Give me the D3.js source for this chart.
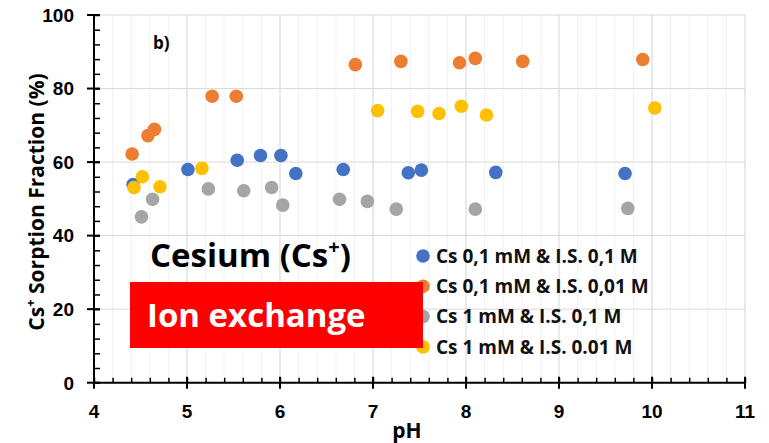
<!DOCTYPE html>
<html>
<head>
<meta charset="utf-8">
<script src="https://cdn.jsdelivr.net/npm/d3@7"></script>
<style>
  body { margin: 0; background: #fff; }
  svg { display: block; font-family: 'Open Sans', Lato, sans-serif; }
</style>
</head>
<body>
<svg id="chart" width="769" height="443"></svg>
<script>
// series labels + colours
const seriesNames = [
  'Cs 0,1 mM & I.S. 0,1 M',
  'Cs 0,1 mM & I.S. 0,01 M',
  'Cs 1 mM & I.S. 0,1 M',
  'Cs 1 mM & I.S. 0.01 M'
];
const seriesColors = ['#4472C4', '#ED7D31', '#A5A5A5', '#FFC000'];

// values (pH, sorption %)
const phBlue = [4.42, 5.01, 5.54, 5.79, 6.01, 6.17, 6.68, 7.38, 7.52, 8.32, 9.71];
const sorbBlue = [53.9, 58.0, 60.5, 61.8, 61.8, 56.9, 58.0, 57.1, 57.8, 57.2, 56.9];

const phOrange = [4.41, 4.58, 4.65, 5.27, 5.53, 6.81, 7.30, 7.93, 8.10, 8.61, 9.90];
const sorbOrange = [62.2, 67.2, 68.9, 77.9, 77.9, 86.5, 87.4, 87.0, 88.2, 87.4, 87.9];

const phGray = [4.51, 4.63, 5.23, 5.61, 5.91, 6.03, 6.64, 6.94, 7.25, 8.10, 9.74];
const sorbGray = [45.1, 49.9, 52.7, 52.2, 53.1, 48.3, 49.9, 49.3, 47.2, 47.2, 47.4];

const phYellow = [4.43, 4.52, 4.71, 5.16, 7.05, 7.48, 7.71, 7.95, 8.22, 10.03];
const sorbYellow = [53.1, 56.0, 53.3, 58.3, 74.0, 73.8, 73.2, 75.2, 72.8, 74.7];

const xTicks = [4, 5, 6, 7, 8, 9, 10, 11];
const yTicks = [0, 20, 40, 60, 80, 100];

const seriesPh = [phBlue, phOrange, phGray, phYellow];
const seriesSorb = [sorbBlue, sorbOrange, sorbGray, sorbYellow];

const svg = d3.select('#chart');
const x = d3.scaleLinear().domain([4, 11]).range([94, 745]);
const y = d3.scaleLinear().domain([0, 100]).range([382.7, 15]);

// minor vertical grid every 0.2
svg.append('g')
  .selectAll('line')
  .data(d3.range(4, 11.001, 0.2))
  .join('line')
  .attr('x1', d => x(d)).attr('x2', d => x(d))
  .attr('y1', y(100)).attr('y2', y(0))
  .attr('stroke', '#f2f2f2');

// major grid
svg.append('g')
  .selectAll('line')
  .data(xTicks.slice(1))
  .join('line')
  .attr('x1', d => x(d)).attr('x2', d => x(d))
  .attr('y1', y(100)).attr('y2', y(0))
  .attr('stroke', '#d9d9d9');

svg.append('g')
  .selectAll('line')
  .data(yTicks.slice(1))
  .join('line')
  .attr('x1', x(4)).attr('x2', x(11))
  .attr('y1', d => y(d)).attr('y2', d => y(d))
  .attr('stroke', '#d9d9d9');

// y axis: minor ticks inside, major ticks crossing
const yAxis = svg.append('g').attr('transform', `translate(${x(4)},0)`);
yAxis.call(d3.axisRight(y).tickValues(d3.range(0, 101, 4)).tickSize(6).tickFormat(''));
yAxis.call(g => g.select('.domain').remove());
yAxis.selectAll('.tick line').attr('stroke', '#000').attr('stroke-width', 1.5);
yAxis.append('line').attr('y1', y(0)).attr('y2', y(100)).attr('stroke', '#000').attr('stroke-width', 2);
yAxis.selectAll('.maj')
  .data(yTicks)
  .join('line')
  .attr('x1', -7).attr('x2', 6)
  .attr('y1', d => y(d)).attr('y2', d => y(d))
  .attr('stroke', '#000').attr('stroke-width', 2);
yAxis.selectAll('.lbl')
  .data(yTicks)
  .join('text')
  .attr('x', -20).attr('y', d => y(d)).attr('dy', '0.36em')
  .attr('text-anchor', 'end')
  .attr('fill', '#000')
  .attr('font-size', 19).attr('font-weight', 'bold')
  .text(d => d);

// x axis
const xAxis = svg.append('g').attr('transform', `translate(0,${y(0)})`);
xAxis.call(d3.axisTop(x).tickValues(d3.range(4, 11.001, 0.2)).tickSize(5).tickFormat(''));
xAxis.call(g => g.select('.domain').remove());
xAxis.selectAll('.tick line').attr('stroke', '#000').attr('stroke-width', 1.5);
xAxis.append('line').attr('x1', x(4)).attr('x2', x(11)).attr('stroke', '#000').attr('stroke-width', 2);
xAxis.selectAll('.maj')
  .data(xTicks)
  .join('line')
  .attr('x1', d => x(d)).attr('x2', d => x(d))
  .attr('y1', -6).attr('y2', 6)
  .attr('stroke', '#000').attr('stroke-width', 2);
xAxis.selectAll('.lbl')
  .data(xTicks)
  .join('text')
  .attr('x', d => x(d)).attr('y', 35)
  .attr('text-anchor', 'middle')
  .attr('fill', '#000')
  .attr('font-size', 19).attr('font-weight', 'bold')
  .text(d => d);

// axis titles
svg.append('text')
  .attr('x', 407).attr('y', 438)
  .attr('text-anchor', 'middle')
  .attr('font-size', 21).attr('font-weight', 'bold')
  .text('pH');

const yTitle = svg.append('text')
  .attr('transform', 'translate(44,202) rotate(-90)')
  .attr('text-anchor', 'middle')
  .attr('font-size', 21).attr('font-weight', 'bold');
yTitle.append('tspan').text('Cs');
yTitle.append('tspan').attr('baseline-shift', 'super').attr('font-size', 13).text('+');
yTitle.append('tspan').text(' Sorption Fraction (%)');

svg.append('text')
  .attr('x', 153).attr('y', 49)
  .attr('font-size', 17).attr('font-weight', 'bold')
  .text('b)');

// points
seriesPh.forEach((ph, i) => {
  svg.append('g')
    .selectAll('circle')
    .data(ph.map((p, j) => [p, seriesSorb[i][j]]))
    .join('circle')
    .attr('cx', d => x(d[0]))
    .attr('cy', d => y(d[1]))
    .attr('r', 6.8)
    .attr('fill', seriesColors[i]);
});

// legend
const legend = svg.append('g').attr('transform', 'translate(423,256)');
legend.selectAll('circle')
  .data(seriesNames)
  .join('circle')
  .attr('cx', 0).attr('cy', (d, i) => i * 30.3)
  .attr('r', 6.8)
  .attr('fill', (d, i) => seriesColors[i]);
legend.selectAll('text')
  .data(seriesNames)
  .join('text')
  .attr('x', 13).attr('y', (d, i) => i * 30.3).attr('dy', '0.36em')
  .attr('font-size', 19).attr('font-weight', 'bold')
  .attr('fill', '#111')
  .text(d => d);

// annotation
const cs = svg.append('text')
  .attr('x', 150).attr('y', 267)
  .attr('font-size', 33).attr('font-weight', 'bold');
cs.append('tspan').text('Cesium (Cs');
cs.append('tspan').attr('baseline-shift', 'super').attr('font-size', 20).text('+');
cs.append('tspan').text(')');

svg.append('rect')
  .attr('x', 130).attr('y', 282)
  .attr('width', 293).attr('height', 66)
  .attr('fill', '#FF0000');
svg.append('text')
  .attr('x', 147).attr('y', 327)
  .attr('font-size', 33).attr('font-weight', 'bold')
  .attr('fill', '#fff')
  .text('Ion exchange');
</script>
</body>
</html>
